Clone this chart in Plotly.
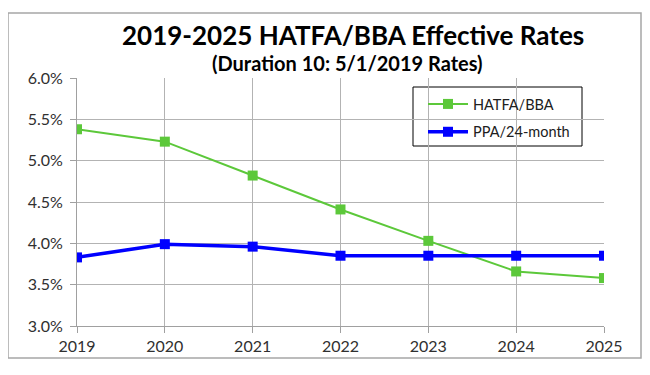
import plotly.graph_objects as go

years = [2019, 2020, 2021, 2022, 2023, 2024, 2025]
hatfa = [5.38, 5.23, 4.82, 4.41, 4.03, 3.66, 3.58]
ppa = [3.83, 3.99, 3.96, 3.85, 3.85, 3.85, 3.85]
y_ticks = [3.0, 3.5, 4.0, 4.5, 5.0, 5.5, 6.0]
y_tick_labels = ["3.0%", "3.5%", "4.0%", "4.5%", "5.0%", "5.5%", "6.0%"]

FONT = "Lato"
OFF = 8  # page body margin
fig = go.Figure()
fig.add_trace(go.Scatter(x=years, y=hatfa, name="HATFA/BBA", mode="lines+markers",
                         legendgroup="a",
                         line=dict(color="#5cc83a", width=2),
                         marker=dict(symbol="square", size=10, color="#5cc83a")))
fig.add_trace(go.Scatter(x=years, y=ppa, name="PPA/24-month", mode="lines+markers",
                         legendgroup="b",
                         line=dict(color="#0000ff", width=3.5),
                         marker=dict(symbol="square", size=10, color="#0000ff")))

W, H = 650, 375
L, T = 77 - OFF, 78 - OFF
R = W - (604 - OFF)
B = H - (326 - OFF)
pw, ph = W - L - R, H - T - B

def px(x):
    return (x - OFF - L) / pw

def py(y):
    return (H - B - (y - OFF)) / ph

fig.update_layout(
    width=W, height=H,
    margin=dict(l=L, r=R, t=T, b=B),
    paper_bgcolor="white", plot_bgcolor="white",
    font=dict(family=FONT, color="#404040", size=15),
    showlegend=True,
    legend=dict(x=px(423), y=py(88), xanchor="left", yanchor="top",
                borderwidth=0, bgcolor="rgba(0,0,0,0)",
                font=dict(size=14.5, color="#202020", family=FONT),
                itemwidth=40, tracegroupgap=6),
    annotations=[
        dict(text="<b>2019-2025 HATFA/BBA Effective Rates</b>", xref="paper", yref="paper",
             x=px(353), y=py(35), xanchor="center", yanchor="middle", showarrow=False,
             font=dict(size=26, color="#000000", family=FONT)),
        dict(text="<b>(Duration 10: 5/1/2019 Rates)</b>", xref="paper", yref="paper",
             x=px(347), y=py(63), xanchor="center", yanchor="middle", showarrow=False,
             font=dict(size=20, color="#000000", family=FONT)),
    ],
    shapes=[
        dict(type="rect", xref="paper", yref="paper",
             x0=px(8), x1=px(641), y0=py(358), y1=py(13),
             line=dict(color="#a6a6a6", width=1.5), layer="below"),
        dict(type="rect", xref="paper", yref="paper",
             x0=px(413), x1=px(582), y0=py(146), y1=py(87),
             fillcolor="white", line=dict(color="#000000", width=1), layer="between"),
    ],
)
fig.update_xaxes(range=[2019, 2025], tickvals=years, ticktext=[str(y) for y in years],
                 showgrid=True, gridcolor="#b3b3b3", gridwidth=1,
                 showline=True, linecolor="#a0a0a0", ticks="outside", ticklen=6,
                 tickcolor="#a0a0a0", zeroline=False, tickfont=dict(size=16, color="#303030"))
fig.update_yaxes(range=[3.0, 6.0], tickvals=y_ticks, ticktext=y_tick_labels,
                 showgrid=True, gridcolor="#b3b3b3", gridwidth=1,
                 showline=True, linecolor="#a0a0a0", ticks="outside", ticklen=6,
                 ticklabelstandoff=4,
                 tickcolor="#a0a0a0", zeroline=False, tickfont=dict(size=16, color="#303030"))

fig.write_html("out.html")
